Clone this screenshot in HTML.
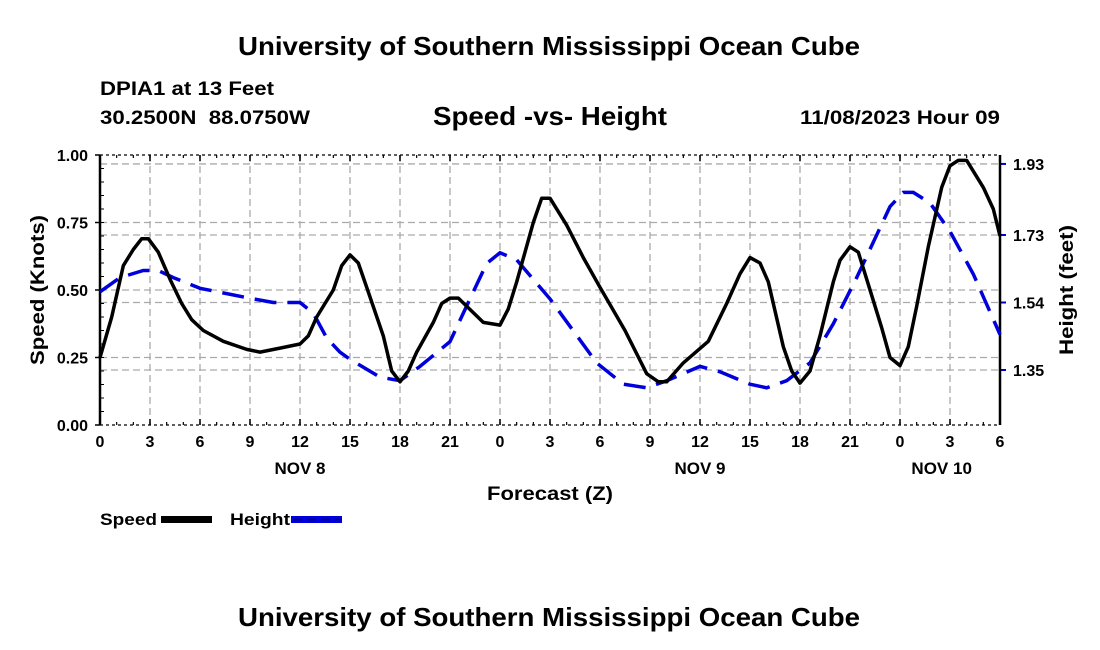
<!DOCTYPE html>
<html><head><meta charset="utf-8"><style>
body{margin:0;background:#fff;}
svg{display:block;font-family:"Liberation Sans",sans-serif;font-weight:bold;}
</style></head><body>
<svg id="chart" width="1100" height="650" viewBox="0 0 1100 650" xmlns="http://www.w3.org/2000/svg">
<rect width="1100" height="650" fill="#fff"/>
<text x="238" y="55" font-size="26" textLength="622" lengthAdjust="spacingAndGlyphs">University of Southern Mississippi Ocean Cube</text>
<text x="100" y="95" font-size="19" textLength="174" lengthAdjust="spacingAndGlyphs">DPIA1 at 13 Feet</text>
<text x="100" y="124" font-size="19" textLength="210" lengthAdjust="spacingAndGlyphs" xml:space="preserve">30.2500N  88.0750W</text>
<text x="433" y="125" font-size="26" textLength="234" lengthAdjust="spacingAndGlyphs">Speed -vs- Height</text>
<text x="800" y="124" font-size="19" textLength="200" lengthAdjust="spacingAndGlyphs">11/08/2023 Hour 09</text>
<g id="grid"></g>
<g id="axes"></g>
<g id="series"></g>
<text transform="translate(44,365) rotate(-90)" font-size="19" textLength="150" lengthAdjust="spacingAndGlyphs">Speed (Knots)</text>
<text transform="translate(1073,355) rotate(-90)" font-size="19" textLength="130" lengthAdjust="spacingAndGlyphs">Height (feet)</text>
<text x="487" y="500" font-size="19" textLength="126" lengthAdjust="spacingAndGlyphs">Forecast (Z)</text>
<g>
<text x="100" y="525" font-size="17" textLength="57" lengthAdjust="spacingAndGlyphs">Speed</text>
<rect x="161" y="516" width="51" height="7" fill="#000"/>
<text x="230" y="525" font-size="17" textLength="60" lengthAdjust="spacingAndGlyphs">Height</text>
<rect x="291" y="516" width="51" height="7" fill="#0000dd"/>
<line x1="293" y1="519.5" x2="342" y2="519.5" stroke="#000055" stroke-width="1.5" stroke-dasharray="9,5"/>
</g>
<text x="238" y="626" font-size="26" textLength="622" lengthAdjust="spacingAndGlyphs">University of Southern Mississippi Ocean Cube</text>
</svg>
<script>
const speedHours=[0,0.7,1.4,2,2.5,2.9,3.5,4.2,4.9,5.5,6.2,7.4,8.8,9.6,10.8,12,12.5,13,14,14.5,15,15.5,16,17,17.5,18,18.5,19,20,20.5,21,21.5,22,23,24,24.5,25,26,26.5,27,28,29,30,31.5,32.8,33.5,34,35,36.5,37.6,38.4,39,39.6,40.1,41,41.5,42,42.6,43.2,44,44.4,45,45.5,46,46.9,47.4,48,48.5,49,49.7,50.5,51,51.5,52,52.4,53,53.6,54];
const speedValues=[0.25,0.40,0.59,0.65,0.69,0.69,0.64,0.54,0.45,0.39,0.35,0.31,0.28,0.27,0.285,0.30,0.33,0.40,0.50,0.59,0.63,0.60,0.51,0.33,0.20,0.16,0.20,0.27,0.38,0.45,0.47,0.47,0.44,0.38,0.37,0.43,0.53,0.75,0.84,0.84,0.74,0.62,0.51,0.35,0.19,0.16,0.16,0.23,0.31,0.45,0.56,0.62,0.60,0.53,0.29,0.20,0.155,0.20,0.33,0.53,0.61,0.66,0.64,0.54,0.36,0.25,0.22,0.29,0.44,0.66,0.88,0.96,0.98,0.98,0.94,0.88,0.80,0.70];
const heightHours=[0,1.2,2.6,3.5,4.4,6,9.2,10.4,12,12.8,13.6,14.4,15,16.8,18,19.2,21,22.2,23.2,24,25,27,29.8,31.4,32.8,34,36,37.2,39,40,41.2,42.6,44,45.4,46.8,47.4,48.2,48.8,49.8,51,52.4,54];
const heightValues=[1.57,1.61,1.63,1.63,1.61,1.58,1.55,1.54,1.54,1.51,1.44,1.40,1.38,1.33,1.32,1.36,1.43,1.55,1.65,1.68,1.66,1.55,1.37,1.31,1.30,1.32,1.36,1.345,1.31,1.30,1.32,1.37,1.48,1.61,1.75,1.81,1.85,1.85,1.82,1.74,1.62,1.45];
const xTickLabels=["0","3","6","9","12","15","18","21","0","3","6","9","12","15","18","21","0","3","6"];
const dayLabels=["NOV 8","NOV 9","NOV 10"];
const dayLabelHours=[12,36,50.5];
const speedTicks=[0,0.25,0.5,0.75,1.0];
const heightTicks=[1.35,1.54,1.73,1.93];

const L=100,R=1000,T=155,B=425;
const xS=h=>L+h*(R-L)/54;
const yS=v=>B-v*(B-T);
const yH=v=>370-(v-1.35)/0.19*67.5;
const NS="http://www.w3.org/2000/svg";
function mk(tag,attrs,parent,text){const e=document.createElementNS(NS,tag);for(const k in attrs)e.setAttribute(k,attrs[k]);if(text!==undefined)e.textContent=text;parent.appendChild(e);return e;}
const grid=document.getElementById('grid'),axes=document.getElementById('axes'),ser=document.getElementById('series');
const gs={stroke:"#aaa","stroke-width":1.3,"stroke-dasharray":"7,4",fill:"none"};
xTickLabels.forEach((t,i)=>{const x=xS(i*3);
  if(i>0&&i<18){const g=mk('line',Object.assign({x1:x,x2:x,y1:T,y2:B},gs),grid);
    
    }
  const tl=mk('text',{x:x,y:B+22,"font-size":16,"text-anchor":"middle"},axes,t);
  
  
  mk('line',{x1:x,x2:x,y1:B,y2:B-6,stroke:"#000","stroke-width":1.5},axes);
  mk('line',{x1:x,x2:x,y1:T,y2:T+6,stroke:"#000","stroke-width":1.5},axes);
});
for(let h=0;h<=54;h+=1){const x=xS(h);mk('line',{x1:x,x2:x,y1:B,y2:B-3,stroke:"#000","stroke-width":1.2},axes);mk('line',{x1:x,x2:x,y1:T,y2:T+3,stroke:"#000","stroke-width":1.2},axes);}
dayLabels.forEach((d,i)=>{const t=mk('text',{x:xS(dayLabelHours[i]),y:B+49,"font-size":17,"text-anchor":"middle"},axes,d);
  
  });
speedTicks.forEach(v=>{const y=yS(v);
  if(v>0&&v<1){const g=mk('line',Object.assign({x1:L,x2:R,y1:y,y2:y},gs),grid);
    
    }
  mk('line',{x1:L-5,x2:L,y1:y,y2:y,stroke:"#000","stroke-width":1.5},axes);
  const t=mk('text',{x:L-12,y:y+6,"font-size":16,"text-anchor":"end"},axes,v.toFixed(2));
  
  });
for(let v=0.05;v<1;v+=0.05){const y=yS(v);mk('line',{x1:L,x2:L+4,y1:y,y2:y,stroke:"#000","stroke-width":1},axes);}
heightTicks.forEach(v=>{const y=yH(v);
  const g=mk('line',Object.assign({x1:L,x2:R,y1:y,y2:y},gs),grid);
  
  
  mk('line',{x1:R,x2:R+6,y1:y,y2:y,stroke:"#0000cc","stroke-width":2},axes);
  const t=mk('text',{x:R+13,y:y+6,"font-size":16},axes,v.toFixed(2));
  
  });
mk('line',{x1:L,x2:R,y1:T,y2:T,stroke:"#000","stroke-width":1.2,"stroke-dasharray":"3,3"},axes);
mk('line',{x1:L,x2:R,y1:B,y2:B,stroke:"#000","stroke-width":1.2,"stroke-dasharray":"3,3"},axes);
mk('line',{x1:L,x2:L,y1:T,y2:B,stroke:"#000","stroke-width":2.5},axes);
mk('line',{x1:R,x2:R,y1:T,y2:B,stroke:"#000","stroke-width":2.5},axes);
const hp=heightHours.map((h,i)=>xS(h).toFixed(1)+','+yH(heightValues[i]).toFixed(1)).join(' ');
const hl=mk('polyline',{points:hp,fill:"none",stroke:"#0000dd","stroke-width":3.5,"stroke-dasharray":"22,11"},ser);


const sp=speedHours.map((h,i)=>xS(h).toFixed(1)+','+yS(speedValues[i]).toFixed(1)).join(' ');
const sl=mk('polyline',{points:sp,fill:"none",stroke:"#000","stroke-width":3.5,"stroke-linejoin":"round"},ser);


</script>
</body></html>
